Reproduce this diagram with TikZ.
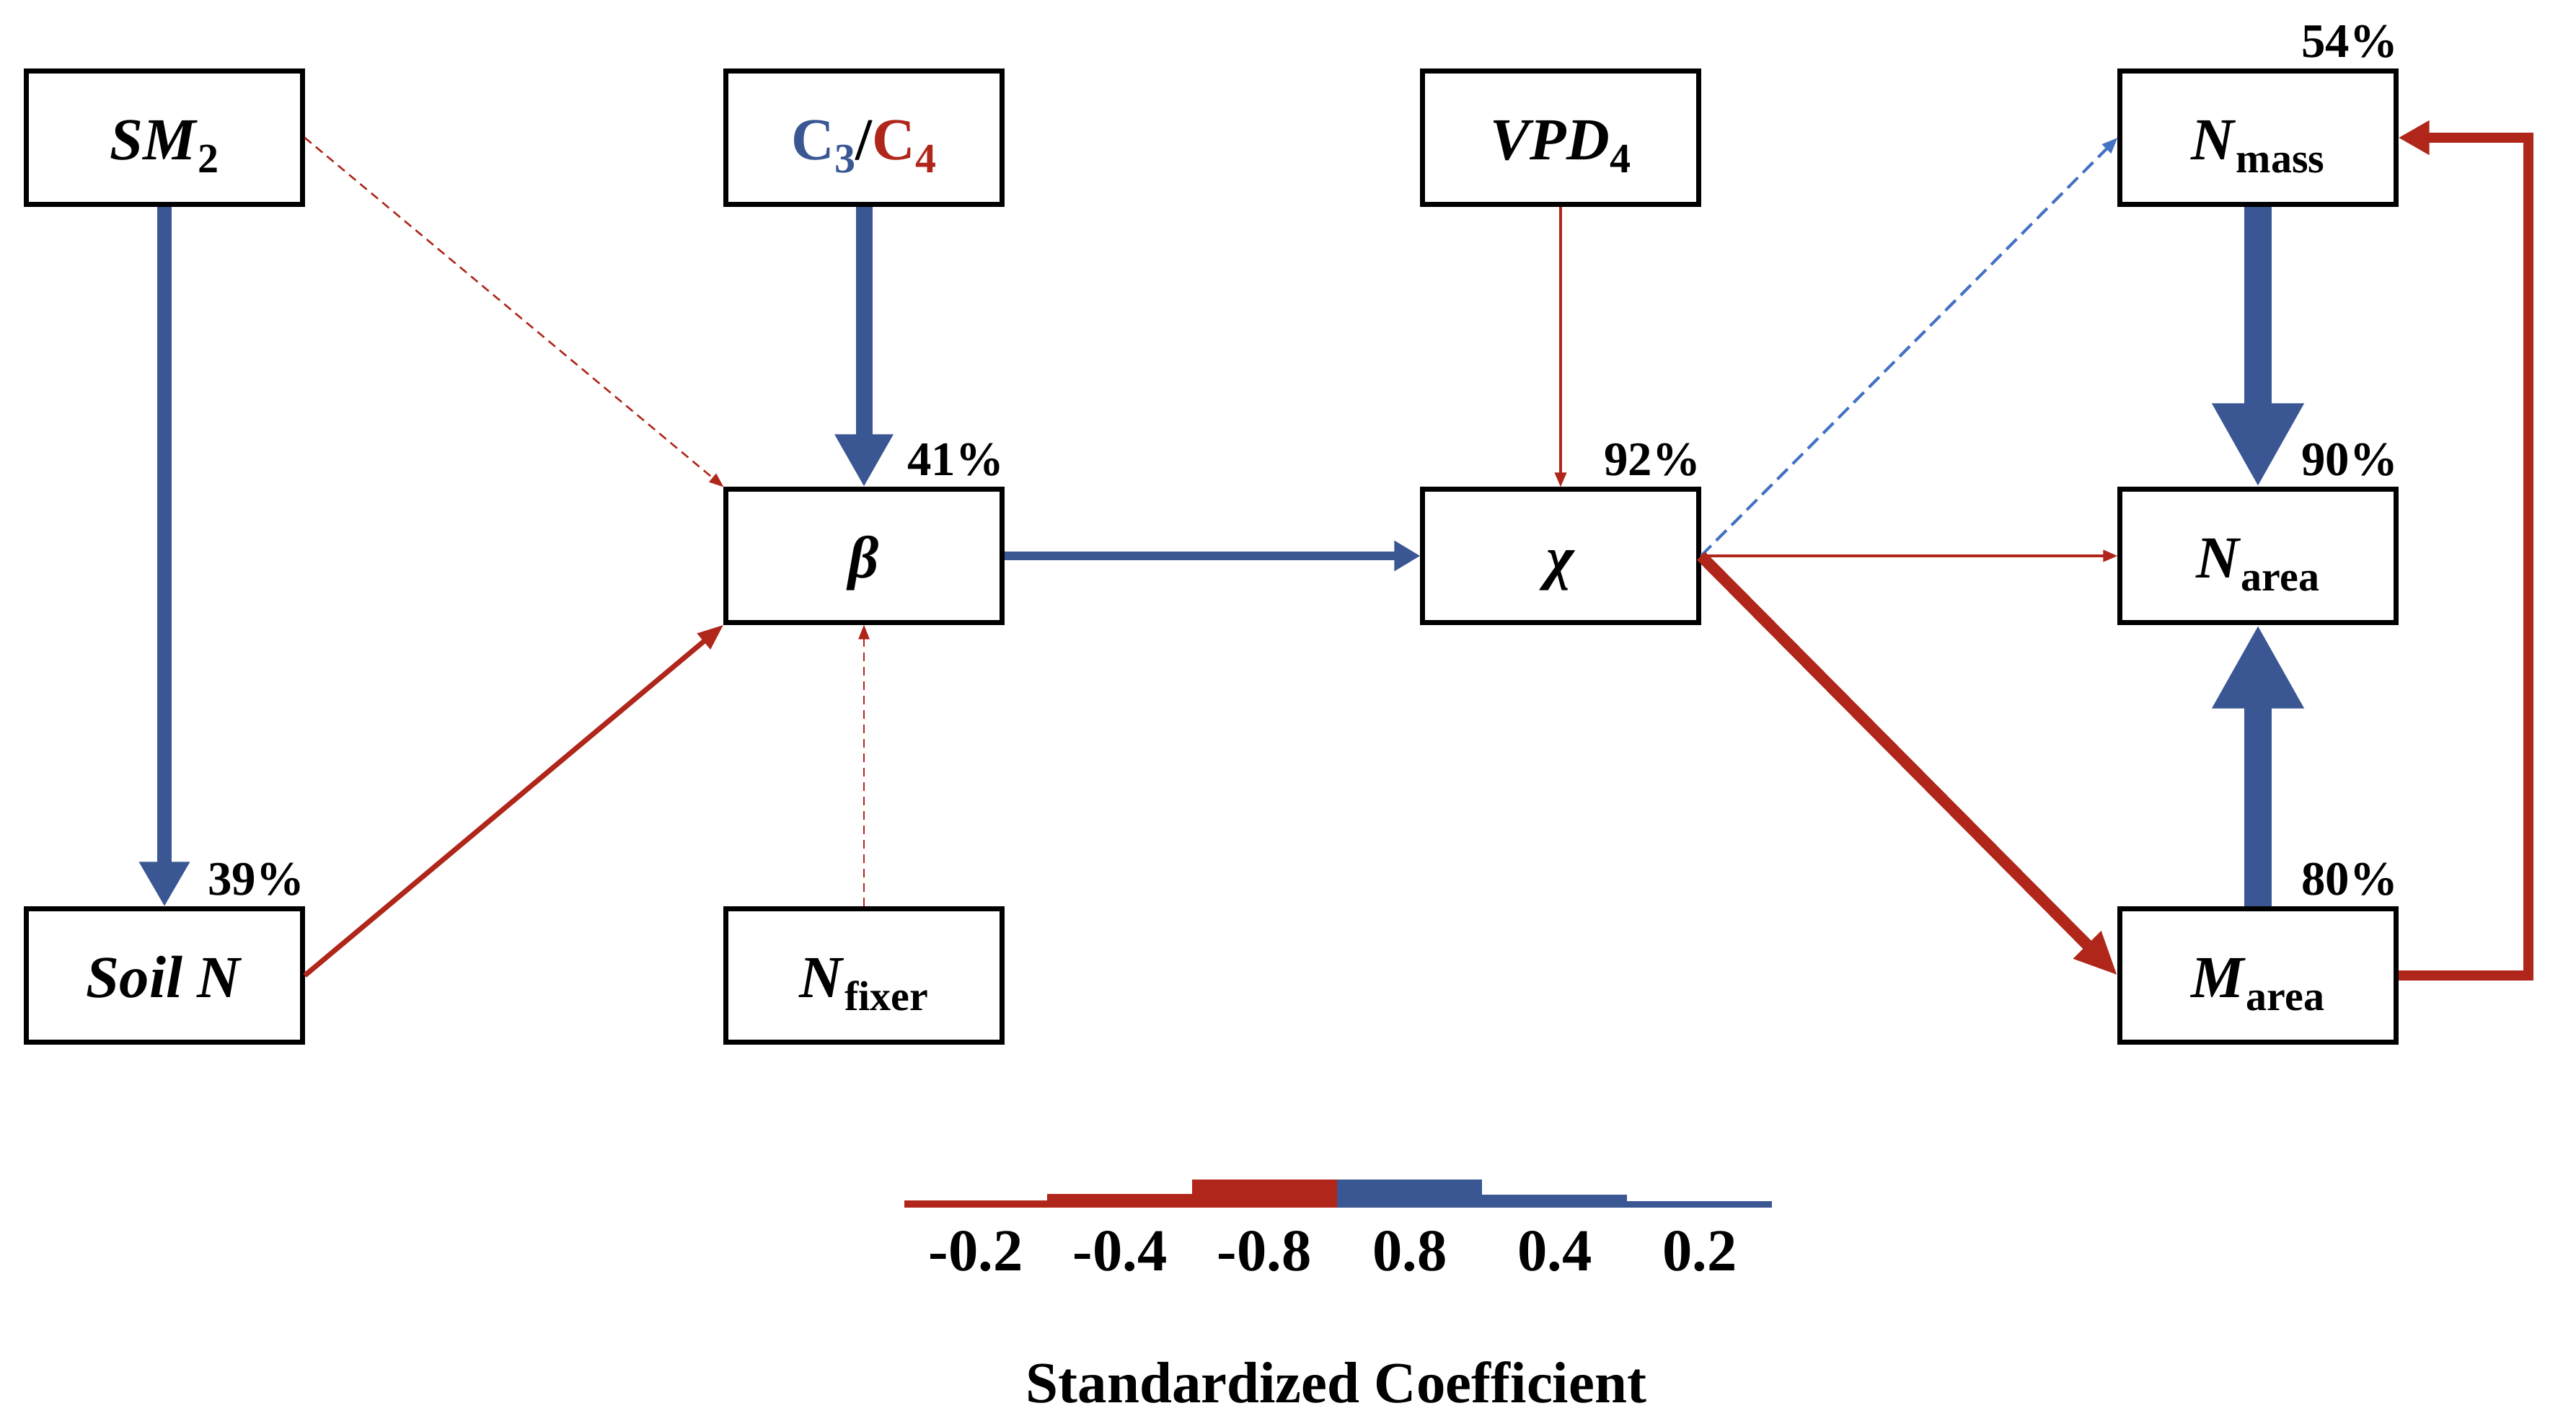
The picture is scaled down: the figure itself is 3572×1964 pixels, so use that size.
\documentclass[tikz,border=0pt]{standalone}
\usepackage{fontspec}
\setmainfont{Liberation Serif}
\usetikzlibrary{arrows.meta}
\definecolor{cblue}{HTML}{3A5794}
\definecolor{cred}{HTML}{B0261A}
\definecolor{lblue}{HTML}{4472C4}
\newcommand\subt[1]{\raisebox{-0.22em}{\fontsize{16.5}{18}\selectfont\bfseries\upshape #1}}
\newcommand\varit[1]{\textbf{\textit{#1}}}
\begin{document}
\begin{tikzpicture}[x=0.01cm,y=-0.01cm,
  font=\fontsize{23.5}{28}\selectfont\bfseries,
  box/.style={draw,line width=0.07cm,minimum width=3.82cm,minimum height=1.84cm,inner sep=0pt,fill=white,text height=0.6cm,text depth=0pt},
  pct/.style={font=\fontsize{19}{23}\selectfont\bfseries,inner sep=0pt,anchor=south east},
  bigblue/.style={cblue,line width=0.38cm,-{Triangle[length=1.16cm,width=1.19cm]}},
  midblue/.style={cblue,line width=0.20cm,-{Triangle[length=0.62cm,width=0.66cm]}},
  c34blue/.style={cblue,line width=0.23cm,-{Triangle[length=0.73cm,width=0.76cm]}},
  bchblue/.style={cblue,line width=0.12cm,-{Triangle[length=0.36cm,width=0.40cm]}},
  thinreddash/.style={cred,line width=0.025cm,dash pattern=on 0.12cm off 0.08cm,-{Triangle[length=0.2cm,width=0.15cm]}},
  thinred/.style={cred,line width=0.035cm,-{Triangle[length=0.2cm,width=0.16cm]}},
  medred/.style={cred,line width=0.07cm,-{Triangle[length=0.36cm,width=0.27cm]}},
  thickred/.style={cred,line width=0.16cm,-{Triangle[length=0.6cm,width=0.5cm]}},
  loopred/.style={cred,line width=0.14cm,line join=miter,-{Triangle[length=0.43cm,width=0.45cm]}},
  bluedash/.style={lblue,line width=0.04cm,dash pattern=on 0.2cm off 0.1cm,-{Triangle[length=0.22cm,width=0.17cm]}}
]
\path[use as bounding box] (0,0) rectangle (3572,1964);

% nodes
\node[box] (sm) at (228,191) {\varit{SM}\subt{2}};
\node[box] (c34) at (1198,191) {\textcolor{cblue}{C\subt{3}}/\textcolor{cred}{C\subt{4}}};
\node[box] (vpd) at (2164,191) {\varit{VPD}\subt{4}};
\node[box] (nmass) at (3131,191) {\varit{N}\subt{mass}};
\node[box] (beta) at (1198,771) {\varit{β}};
\node[box] (chi) at (2164,771) {\varit{χ}};
\node[box] (narea) at (3131,771) {\varit{N}\subt{area}};
\node[box] (soil) at (228,1353) {\varit{Soil N}};
\node[box] (nfix) at (1198,1353) {\varit{N}\subt{fixer}};
\node[box] (marea) at (3131,1353) {\varit{M}\subt{area}};

% percentages
\node[pct] (p41) at ([yshift=0.14cm]beta.north east) {41\%};
\node[pct] (p92) at ([yshift=0.14cm]chi.north east) {92\%};
\node[pct] (p54) at ([yshift=0.14cm]nmass.north east) {54\%};
\node[pct] (p90) at ([yshift=0.14cm]narea.north east) {90\%};
\node[pct] (p39) at ([yshift=0.14cm]soil.north east) {39\%};
\node[pct] (p80) at ([yshift=0.14cm]marea.north east) {80\%};

% connectors
\draw[midblue] (sm) -- (soil);
\draw[c34blue] (c34) -- (beta);
\draw[thinreddash] (sm.east) -- (beta.north west);
\draw[medred] (soil.east) -- (beta.south west);
\draw[thinreddash] (nfix) -- (beta);
\draw[bchblue] (beta) -- (chi);
\draw[thinred] (vpd) -- (chi);
\draw[bluedash] (chi.east) -- (nmass.west);
\draw[thinred] (chi.east) -- (narea.west);
\draw[thickred] (chi.east) -- (marea.west);
\draw[bigblue] (nmass) -- (narea);
\draw[bigblue] (marea) -- (narea);
\coordinate (loopx) at (3506,0);
\draw[loopred] (marea.east) -- (marea.east -| loopx) |- (nmass.east);

% legend
\fill[cred] (1254,1665) rectangle (1452,1675);
\fill[cred] (1452,1656) rectangle (1653,1675);
\fill[cred] (1653,1636) rectangle (1854,1675);
\fill[cblue] (1854,1636) rectangle (2055,1675);
\fill[cblue] (2055,1657) rectangle (2256,1675);
\fill[cblue] (2256,1666) rectangle (2457,1675);
\node[anchor=base] (l1) at (1353,1762) {-0.2};
\node[anchor=base] (l2) at (1553,1762) {-0.4};
\node[anchor=base] (l3) at (1753,1762) {-0.8};
\node[anchor=base] (l4) at (1955,1762) {0.8};
\node[anchor=base] (l5) at (2156,1762) {0.4};
\node[anchor=base] (l6) at (2357,1762) {0.2};
\node[anchor=base,font=\fontsize{23}{27}\selectfont\bfseries] (title) at (1853,1945) {Standardized Coefficient};
\end{tikzpicture}
\end{document}
